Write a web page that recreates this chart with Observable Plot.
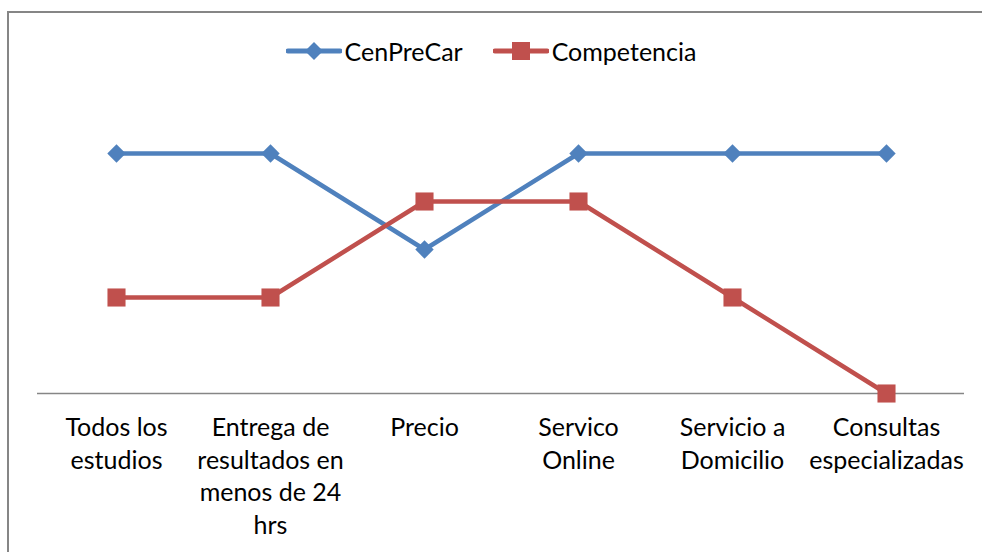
<!DOCTYPE html>
<html>
<head>
<meta charset="utf-8">
<script src="https://cdn.jsdelivr.net/npm/d3@7"></script>
<script src="https://cdn.jsdelivr.net/npm/@observablehq/plot@0.6"></script>
<style>
  html, body { margin: 0; padding: 0; background: #fff; }
  body { width: 982px; height: 552px; overflow: hidden; position: relative; font-family: Lato, "Open Sans", sans-serif; }
  #frame { position: absolute; left: 7px; top: 11px; width: 1100px; height: 700px; border-left: 2px solid #868686; border-top: 2px solid #868686; }
  #legend { position: absolute; top: 0; left: 0; width: 982px; height: 80px; display: flex; justify-content: center; align-items: center; gap: 30px; padding-top: 21px; box-sizing: border-box; font-size: 25px; color: #000; }
  #legend .item { display: flex; align-items: center; gap: 3px; }
  #chart { position: absolute; top: 80px; left: 0; }
</style>
</head>
<body>
<div id="frame"></div>
<div id="legend"></div>
<div id="chart"></div>
<script>
const categories = ["Todos los estudios", "Entrega de resultados en menos de 24 hrs", "Precio", "Servico Online", "Servicio a Domicilio", "Consultas especializadas"];
const tickLabels = ["Todos los\nestudios", "Entrega de\nresultados en\nmenos de 24\nhrs", "Precio", "Servico\nOnline", "Servicio a\nDomicilio", "Consultas\nespecializadas"];
const seriesNames = ["CenPreCar", "Competencia"];
const cenPreCar = [5, 5, 3, 5, 5, 5];
const competencia = [2, 2, 4, 4, 2, 0];
const colors = ["#4F81BD", "#C0504D"];

const dataA = categories.map((c, i) => ({category: c, value: cenPreCar[i]}));
const dataB = categories.map((c, i) => ({category: c, value: competencia[i]}));
const labelOf = new Map(categories.map((c, i) => [c, tickLabels[i]]));

const chart = Plot.plot({
  width: 982,
  height: 472,
  marginLeft: 37,
  marginRight: 18,
  marginTop: 25,
  marginBottom: 159,
  style: {fontFamily: "Lato, 'Open Sans', sans-serif", fontSize: "25px", color: "#000", background: "transparent"},
  x: {type: "point", domain: categories, padding: 0.5, axis: null},
  y: {domain: [0, 6], axis: null},
  marks: [
    Plot.ruleY([0], {stroke: "#868686", strokeWidth: 1.5}),
    Plot.axisX({tickSize: 0, tickPadding: 19, tickFormat: d => labelOf.get(d), fontSize: 25, lineHeight: 1.31, fill: "#000", lineAnchor: "top", label: null}),
    Plot.line(dataA, {x: "category", y: "value", stroke: colors[0], strokeWidth: 4.5}),
    Plot.line(dataB, {x: "category", y: "value", stroke: colors[1], strokeWidth: 4.5}),
    Plot.dot(dataA, {x: "category", y: "value", symbol: "diamond2", r: 8.3, fill: colors[0], stroke: "none"}),
    Plot.dot(dataB, {x: "category", y: "value", symbol: "square", r: 10.2, fill: colors[1], stroke: "none"})
  ]
});
document.getElementById("chart").appendChild(chart);

const legend = document.getElementById("legend");
seriesNames.forEach((name, i) => {
  const item = document.createElement("div");
  item.className = "item";
  const marker = i === 0
    ? `<path d="M28,1 L37,10 L28,19 L19,10 Z" fill="${colors[i]}"/>`
    : `<rect x="19" y="1" width="18" height="18" fill="${colors[i]}"/>`;
  item.innerHTML = `<svg width="56" height="20"><line x1="2" x2="54" y1="10" y2="10" stroke="${colors[i]}" stroke-width="5" stroke-linecap="round"/>${marker}</svg><span>${name}</span>`;
  legend.appendChild(item);
});
</script>
</body>
</html>
